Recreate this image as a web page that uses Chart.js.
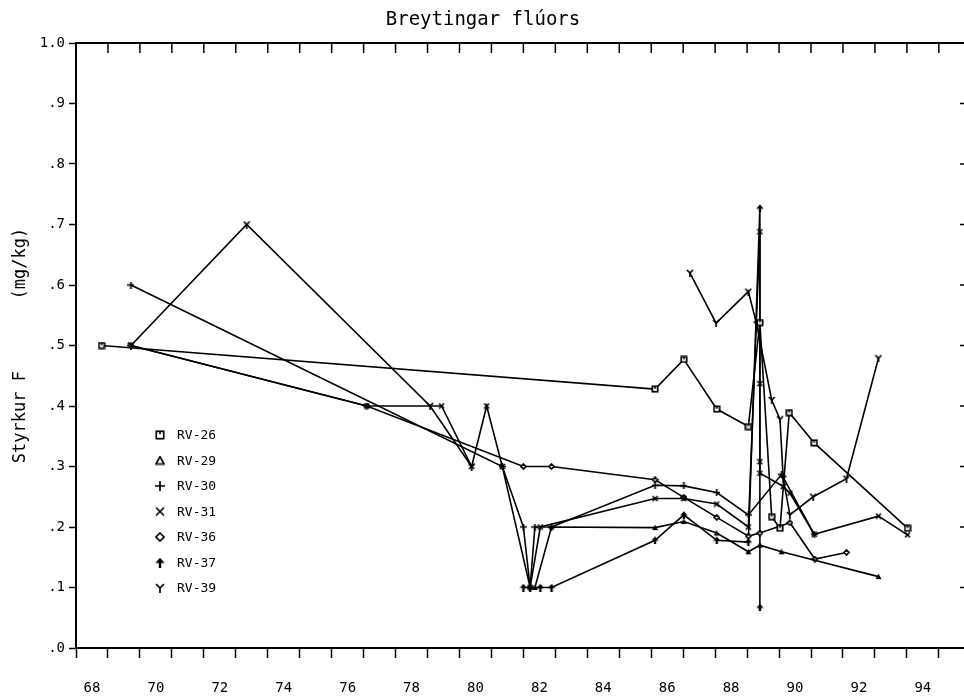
<!DOCTYPE html>
<html><head><meta charset="utf-8">
<script src="https://cdn.jsdelivr.net/npm/chart.js@4/dist/chart.umd.min.js"></script>
<style>
html,body{margin:0;padding:0;overflow:hidden;background:#fff;width:964px;height:700px}
#wrap{width:972px;height:700px}
</style></head><body>
<div id="wrap"><canvas id="c" width="972" height="700"></canvas></div>
<script>
// ---- data ----
const titleText = 'Breytingar flúors';
const yTitleText = 'Styrkur F       (mg/kg)';
const seriesNames = ['RV-26', 'RV-29', 'RV-30', 'RV-31', 'RV-36', 'RV-37', 'RV-39'];

const xTickValues = [68, 70, 72, 74, 76, 78, 80, 82, 84, 86, 88, 90, 92, 94];
const xTickLabels = ['68', '70', '72', '74', '76', '78', '80', '82', '84', '86', '88', '90', '92', '94'];
const xMinorTicks = [67.5, 68.5, 69.5, 70.5, 71.5, 72.5, 73.5, 74.5, 75.5, 76.5, 77.5, 78.5, 79.5, 80.5, 81.5, 82.5, 83.5, 84.5, 85.5, 86.5, 87.5, 88.5, 89.5, 90.5, 91.5, 92.5, 93.5, 94.5];
const yTickValues = [0, 0.1, 0.2, 0.3, 0.4, 0.5, 0.6, 0.7, 0.8, 0.9, 1.0];
const yTickLabels = ['.0', '.1', '.2', '.3', '.4', '.5', '.6', '.7', '.8', '.9', '1.0'];

const x26 = [68.30, 85.62, 86.52, 87.55, 88.54, 88.90, 89.27, 89.53, 89.82, 90.60, 93.52];
const y26 = [0.500, 0.428, 0.477, 0.395, 0.366, 0.538, 0.217, 0.198, 0.389, 0.339, 0.198];

const x29 = [81.86, 82.38, 85.62, 86.52, 87.55, 88.54, 88.90, 89.58, 92.61];
const y29 = [0.100, 0.200, 0.199, 0.209, 0.190, 0.159, 0.170, 0.159, 0.118];

const x30 = [69.22, 80.84, 81.50, 81.71, 81.86, 82.38, 85.62, 86.52, 87.55, 88.54, 89.58, 90.60];
const y30 = [0.600, 0.300, 0.200, 0.100, 0.200, 0.200, 0.269, 0.268, 0.257, 0.220, 0.287, 0.188];

const x31 = [69.22, 76.60, 78.94, 79.88, 80.35, 80.84, 81.71, 82.03, 85.62, 86.52, 87.55, 88.54, 88.90, 88.90, 88.90, 88.90, 89.63, 89.84, 90.60, 92.61, 93.52];
const y31 = [0.500, 0.400, 0.400, 0.300, 0.400, 0.300, 0.100, 0.200, 0.247, 0.247, 0.238, 0.200, 0.688, 0.437, 0.308, 0.289, 0.267, 0.256, 0.188, 0.218, 0.187];

const x36 = [69.22, 76.60, 81.50, 82.38, 85.62, 86.52, 87.55, 88.54, 88.90, 89.84, 90.62, 91.61];
const y36 = [0.500, 0.400, 0.300, 0.300, 0.278, 0.249, 0.216, 0.185, 0.190, 0.207, 0.147, 0.158];

const x37 = [81.50, 81.71, 82.03, 82.38, 85.62, 86.52, 87.55, 88.54, 88.90, 88.90];
const y37 = [0.100, 0.100, 0.100, 0.100, 0.178, 0.220, 0.178, 0.175, 0.727, 0.067];

const x39 = [69.22, 72.84, 78.58, 79.88, 83.00, 86.71, 87.53, 88.54, 88.80, 89.27, 89.53, 89.63, 89.84, 90.57, 91.61, 92.61];
const y39 = [0.500, 0.700, 0.400, 0.300, null, 0.620, 0.537, 0.589, 0.535, 0.410, 0.378, 0.280, 0.220, 0.250, 0.280, 0.479];

// ---- drawing helpers ----
const FONT = "'DejaVu Sans Mono', 'Liberation Mono', monospace";

function sym(kind, s) {
  const c = document.createElement('canvas');
  c.width = s; c.height = s;
  const g = c.getContext('2d');
  g.strokeStyle = '#000'; g.fillStyle = '#000'; g.lineWidth = 1.7; g.lineCap = 'butt';
  const m = s / 2;
  g.beginPath();
  if (kind === 'Y') {
    g.moveTo(1, 1); g.lineTo(m, m); g.lineTo(s - 1, 1); g.moveTo(m, m); g.lineTo(m, s); g.stroke();
  } else if (kind === 'arrow') {
    g.moveTo(m, 0.3); g.lineTo(s - 0.3, m + 0.6); g.lineTo(0.3, m + 0.6); g.closePath(); g.fill();
    g.fillRect(m - 1.2, m, 2.4, m);
  } else if (kind === 'sq') {
    g.fillStyle = '#fff'; g.fillRect(1, 1, s - 2, s - 2);
    g.strokeRect(1.3, 1.3, s - 2.6, s - 2.6);
    g.fillStyle = '#000'; g.fillRect(m - 0.8, 1.3, 1.6, s * 0.3);
  } else if (kind === 'tri') {
    g.moveTo(m, 1.2); g.lineTo(s - 1, s - 1.5); g.lineTo(1, s - 1.5); g.closePath();
    g.fillStyle = '#fff'; g.fill(); g.stroke();
  } else if (kind === 'triF') {
    g.moveTo(m, 0.5); g.lineTo(s - 0.5, s - 1); g.lineTo(0.5, s - 1); g.closePath(); g.fill();
  } else if (kind === 'plus') {
    g.moveTo(m, 0); g.lineTo(m, s); g.moveTo(0, m); g.lineTo(s, m); g.stroke();
  } else if (kind === 'x') {
    g.moveTo(1, 1); g.lineTo(s - 1, s - 1); g.moveTo(s - 1, 1); g.lineTo(1, s - 1); g.stroke();
  } else if (kind === 'dia') {
    g.moveTo(m, 1); g.lineTo(s - 1, m); g.lineTo(m, s - 1); g.lineTo(1, m); g.closePath();
    g.fillStyle = '#fff'; g.fill(); g.stroke();
  }
  return c;
}

const plotSyms = [sym('sq', 8), sym('triF', 7), sym('plus', 7), sym('x', 7), sym('dia', 7), sym('arrow', 8), sym('Y', 8)];
const legendSyms = [sym('sq', 10), sym('tri', 10), sym('plus', 10), sym('x', 10), sym('dia', 10), sym('arrow', 10), sym('Y', 10)];

const xs = [x26, x29, x30, x31, x36, x37, x39];
const ys = [y26, y29, y30, y31, y36, y37, y39];

const datasets = seriesNames.map((name, i) => ({
  label: name,
  data: xs[i].map((xv, j) => ({ x: xv, y: ys[i][j] })),
  borderColor: '#000',
  borderWidth: 1.6,
  backgroundColor: '#000',
  pointStyle: plotSyms[i],
  pointRadius: 4,
  tension: 0,
  spanGaps: false,
  fill: false
}));

const framePlugin = {
  id: 'frame',
  afterDraw(chart) {
    const { ctx, chartArea: a, scales: { x, y } } = chart;
    ctx.save();
    ctx.strokeStyle = '#000';
    ctx.lineWidth = 2;
    ctx.beginPath();
    ctx.moveTo(a.left - 1, a.top); ctx.lineTo(a.right, a.top);
    ctx.stroke();
    ctx.lineWidth = 1.5;
    ctx.beginPath();
    for (const v of xMinorTicks) {
      const px = x.getPixelForValue(v);
      ctx.moveTo(px, a.top); ctx.lineTo(px, a.top + 10);
    }
    for (const v of yTickValues) {
      if (v === 0 || v === 1) continue;
      const py = y.getPixelForValue(v);
      ctx.moveTo(a.right - 6, py); ctx.lineTo(a.right, py);
    }
    ctx.stroke();
    // legend
    ctx.fillStyle = '#000';
    ctx.font = '13px ' + FONT;
    ctx.textBaseline = 'middle';
    ctx.textAlign = 'left';
    seriesNames.forEach((name, i) => {
      const cy = 435 + 25.5 * i;
      const img = legendSyms[i];
      ctx.drawImage(img, 160 - img.width / 2, cy - img.height / 2);
      ctx.fillText(name, 177, cy + 1);
    });
    ctx.restore();
  }
};

new Chart(document.getElementById('c'), {
  type: 'line',
  data: { datasets },
  plugins: [framePlugin],
  options: {
    responsive: false,
    animation: false,
    devicePixelRatio: 1,
    layout: { autoPadding: false, padding: { left: 0, right: 6, top: 0, bottom: 0 } },
    plugins: {
      legend: { display: false },
      tooltip: { enabled: false },
      title: {
        display: true, text: titleText, color: '#000',
        font: { family: FONT, size: 19, weight: 'normal', lineHeight: 1.2 },
        padding: { top: 9, bottom: 11.2 }
      }
    },
    scales: {
      x: {
        type: 'linear', min: 67.5, max: 95.35,
        afterBuildTicks: s => {
          const vals = [];
          for (const v of xMinorTicks) { vals.push(v); vals.push(v + 0.5); }
          s.ticks = vals.map(v => ({ value: v }));
        },
        afterFit: s => { s.height = 52; s.paddingLeft = 0; s.paddingRight = 0; },
        ticks: {
          autoSkip: false, maxRotation: 0, minRotation: 0, padding: 22,
          color: '#000', font: { family: FONT, size: 14 },
          callback: v => { const k = xTickValues.indexOf(v); return k >= 0 ? xTickLabels[k] : ''; }
        },
        grid: {
          drawOnChartArea: false, drawTicks: true, tickLength: 10, tickWidth: 1.5,
          tickColor: c => (c.tick && xMinorTicks.includes(c.tick.value)) ? '#000' : 'rgba(0,0,0,0)'
        },
        border: { display: true, color: '#000', width: 2 }
      },
      y: {
        type: 'linear', min: 0, max: 1,
        afterBuildTicks: s => { s.ticks = yTickValues.map(v => ({ value: v })); },
        afterFit: s => { s.width = 76; },
        ticks: {
          autoSkip: false, padding: 4, color: '#000', font: { family: FONT, size: 14 },
          callback: (v, i) => yTickLabels[i]
        },
        grid: { drawOnChartArea: false, tickLength: 7, tickWidth: 1.5, tickColor: '#000' },
        border: { display: true, color: '#000', width: 2 },
        title: {
          display: true, text: yTitleText, color: '#000',
          font: { family: FONT, size: 17, lineHeight: 1.2 }, padding: { top: 10, bottom: 0 }
        }
      }
    }
  }
});
</script>
</body></html>
